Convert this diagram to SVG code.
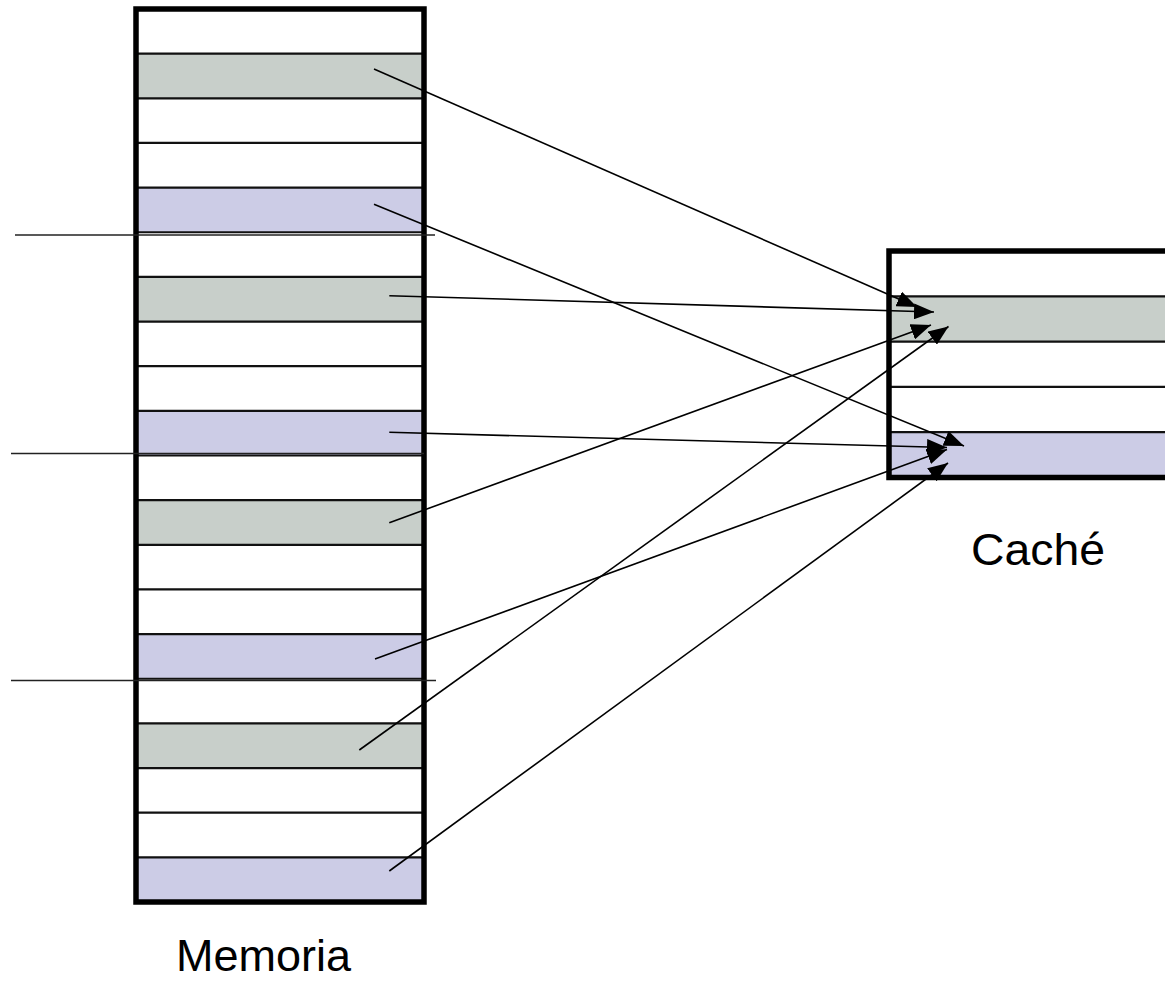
<svg xmlns="http://www.w3.org/2000/svg" width="1165" height="992" viewBox="0 0 1165 992">
<style>
.gray{fill:#C8CFCA}
.lav{fill:#CCCCE6}
.row{stroke:#111;stroke-width:2.2;fill:none}
.border{stroke:#000;stroke-width:5.5;fill:none}
.conn{stroke:#000;stroke-width:1.6;fill:none}
.hl{stroke:#222;stroke-width:1.3}
.lbl{font-family:"Liberation Sans",Arial,sans-serif;font-size:44px;fill:#000}
</style>
<defs>
<marker id="ah" markerUnits="userSpaceOnUse" markerWidth="22" markerHeight="16" viewBox="0 0 22 16" refX="20" refY="8" orient="auto">
<path d="M0,0 L20,8 L0,16 Z" fill="#000"/>
</marker>
</defs>
<rect width="1165" height="992" fill="#fff"/>
<g id="memoria">
<rect x="136" y="9" width="288" height="893" fill="#fff"/>
<rect class="gray" x="136" y="53.65" width="288" height="44.65"/>
<rect class="lav" x="136" y="187.6" width="288" height="44.65"/>
<rect class="gray" x="136" y="276.9" width="288" height="44.65"/>
<rect class="lav" x="136" y="410.85" width="288" height="44.65"/>
<rect class="gray" x="136" y="500.15" width="288" height="44.65"/>
<rect class="lav" x="136" y="634.1" width="288" height="44.65"/>
<rect class="gray" x="136" y="723.4" width="288" height="44.65"/>
<rect class="lav" x="136" y="857.35" width="288" height="44.65"/>
<path class="row" d="M136,53.65H424M136,98.3H424M136,142.95H424M136,187.6H424M136,232.25H424M136,276.9H424M136,321.55H424M136,366.2H424M136,410.85H424M136,455.5H424M136,500.15H424M136,544.8H424M136,589.45H424M136,634.1H424M136,678.75H424M136,723.4H424M136,768.05H424M136,812.7H424M136,857.35H424"/>
<rect class="border" x="136" y="9" width="288" height="893"/>
</g>
<g id="cache">
<rect x="889" y="251" width="290" height="226.5" fill="#fff"/>
<rect class="gray" x="889" y="296.3" width="290" height="45.3"/>
<rect class="lav" x="889" y="432.2" width="290" height="45.3"/>
<path class="row" d="M889,296.3H1170M889,341.6H1170M889,386.9H1170M889,432.2H1170"/>
<path class="border" d="M1175,251H889V477.5H1175"/>
</g>
<g id="labels">
<text class="lbl" x="176" y="971" textLength="175" lengthAdjust="spacingAndGlyphs">Memoria</text>
<text class="lbl" x="971" y="565" textLength="134" lengthAdjust="spacingAndGlyphs">Caché</text>
</g>
<g id="connectors">
<line class="hl" x1="15" y1="235" x2="435" y2="235"/>
<line class="hl" x1="11" y1="453.5" x2="424" y2="453.5"/>
<line class="hl" x1="11" y1="680.5" x2="436" y2="680.5"/>
<line class="conn" x1="374" y1="69" x2="917" y2="307" marker-end="url(#ah)"/>
<line class="conn" x1="374" y1="204.3" x2="964" y2="446" marker-end="url(#ah)"/>
<line class="conn" x1="389.3" y1="295.7" x2="934" y2="312" marker-end="url(#ah)"/>
<line class="conn" x1="389.3" y1="432.3" x2="947" y2="447.5" marker-end="url(#ah)"/>
<line class="conn" x1="389.3" y1="522.7" x2="931" y2="325" marker-end="url(#ah)"/>
<line class="conn" x1="375" y1="659" x2="947" y2="449.5" marker-end="url(#ah)"/>
<line class="conn" x1="359.3" y1="750" x2="948.5" y2="326.5" marker-end="url(#ah)"/>
<line class="conn" x1="389.3" y1="871" x2="948" y2="463" marker-end="url(#ah)"/>
</g>
</svg>
